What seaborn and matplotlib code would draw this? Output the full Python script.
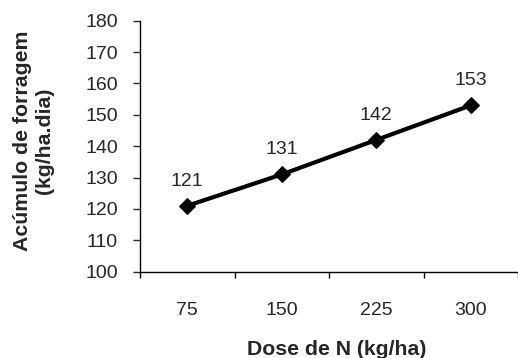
import matplotlib
matplotlib.use("Agg")
import matplotlib.pyplot as plt
import seaborn as sns
import pandas as pd

doses = ["75", "150", "225", "300"]
acumulo = [121, 131, 142, 153]
y_ticks = [100, 110, 120, 130, 140, 150, 160, 170, 180]

sns.set_style("white")
plt.rcParams["font.family"] = ["Liberation Sans", "DejaVu Sans"]

df = pd.DataFrame({"dose": doses, "acumulo": acumulo})

fig = plt.figure(figsize=(5.18, 3.58), dpi=100)
ax = fig.add_axes([140/518, 1-271.7/358, (518-140)/518, 251/358])

sns.lineplot(data=df, x="dose", y="acumulo", ax=ax, color="black",
             linewidth=3, marker="D", markersize=8.5, markeredgecolor="black")

for i, v in enumerate(acumulo):
    ax.annotate(str(v), (i, v), xytext=(0, 11.5), textcoords="offset points",
                ha="center", va="bottom", fontsize=14)

ax.set_ylim(100, 180)
ax.set_yticks(y_ticks)
ax.set_xlim(-0.5, 3.22)

# ticks at category boundaries, labels at centers
ax.set_xticks([-0.5, 0.5, 1.5, 2.5, 3.5])
ax.set_xticklabels([])
ax.set_xticks(range(len(doses)), minor=True)
ax.set_xticklabels(doses, minor=True)
ax.tick_params(axis="x", which="major", length=4, width=1, direction="out", bottom=True, colors="black")
ax.tick_params(axis="x", which="minor", length=0, pad=22, labelsize=14)
ax.tick_params(axis="y", length=5, width=1, direction="out", left=True, pad=11, labelsize=14)

for s in ["top", "right"]:
    ax.spines[s].set_visible(False)
for s in ["left", "bottom"]:
    ax.spines[s].set_color("black")
    ax.spines[s].set_linewidth(1)
ax.grid(False)

ax.set_xlabel("Dose de N (kg/ha)", fontsize=15.3, fontweight="bold", va="center")
ax.xaxis.set_label_coords(0.521, -0.31)
ax.set_ylabel("Acúmulo de forragem\n(kg/ha.dia)", fontsize=15.3, fontweight="bold",
              va="center", ha="center", linespacing=1.15)
ax.yaxis.set_label_coords(-0.282, 0.523)

fig.savefig("out.png", dpi=100)
